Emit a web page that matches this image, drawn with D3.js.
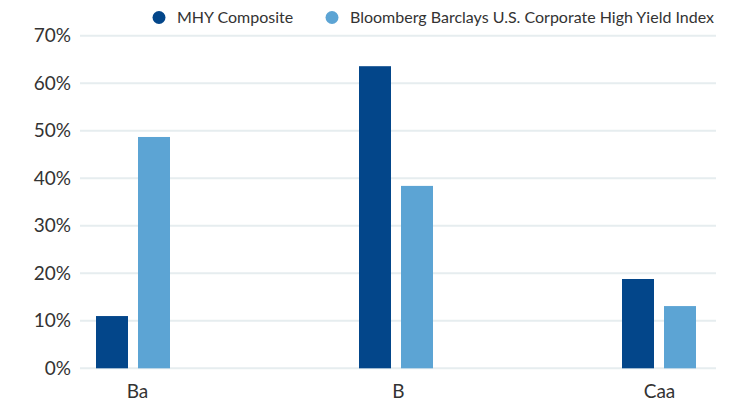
<!DOCTYPE html>
<html>
<head>
<meta charset="utf-8">
<script src="https://cdn.jsdelivr.net/npm/d3@7/dist/d3.min.js"></script>
<style>
  html, body { margin: 0; padding: 0; background: #fff; }
  svg { display: block; font-family: Lato, "Open Sans", sans-serif; }
</style>
</head>
<body>
<svg id="chart" width="730" height="410"></svg>
<script>
const categories = ["Ba", "B", "Caa"];
const seriesNames = ["MHY Composite", "Bloomberg Barclays U.S. Corporate High Yield Index"];
const mhyComposite = [0.110, 0.636, 0.188];
const bloombergIndex = [0.487, 0.384, 0.131];
const yTicks = [0, 0.1, 0.2, 0.3, 0.4, 0.5, 0.6, 0.7];
const colors = ["#03468a", "#5ca4d4"];

const seriesValues = [mhyComposite, bloombergIndex];
const rows = categories.map((c, i) => ({
  cat: c,
  vals: seriesNames.map((s, j) => ({ s, v: seriesValues[j][i] }))
}));

const svg = d3.select("#chart");

const y = d3.scaleLinear().domain([0, 0.7]).range([368.3, 35.8]);
const xGroup = d3.scalePoint().domain(categories).range([133, 659]);
const xLabel = d3.scalePoint().domain(categories).range([137, 659]);
const xInner = d3.scaleBand().domain(seriesNames).range([-37, 37]).paddingInner(10 / 42).paddingOuter(0);

// gridlines
svg.append("g")
  .selectAll("line")
  .data(yTicks)
  .join("line")
  .attr("x1", 80).attr("x2", 716)
  .attr("y1", d => y(d)).attr("y2", d => y(d))
  .attr("stroke", "#e6edef")
  .attr("stroke-width", 2);

// y axis labels
const yAxis = d3.axisLeft(y).tickValues(yTicks).tickFormat(d3.format(".0%")).tickSize(0).tickPadding(0);
const gy = svg.append("g").attr("transform", "translate(71,0)").call(yAxis);
gy.select(".domain").remove();
gy.selectAll("text")
  .attr("font-family", "Lato, sans-serif")
  .attr("font-size", 19)
  .attr("fill", "#333");

// bars
const groups = svg.append("g")
  .selectAll("g")
  .data(rows)
  .join("g")
  .attr("transform", d => `translate(${xGroup(d.cat)},0)`);

groups.selectAll("rect")
  .data(d => d.vals)
  .join("rect")
  .attr("x", d => xInner(d.s))
  .attr("width", xInner.bandwidth())
  .attr("y", d => y(d.v))
  .attr("height", d => y(0) - y(d.v))
  .attr("fill", (d, i) => colors[i]);

// x axis labels
const xAxis = d3.axisBottom(xLabel).tickSize(0).tickPadding(0);
const gx = svg.append("g").attr("transform", "translate(0,384)").call(xAxis);
gx.select(".domain").remove();
gx.selectAll("text")
  .attr("font-family", "Lato, sans-serif")
  .attr("font-size", 19)
  .attr("fill", "#333");

// legend
const legendX = [159, 332];
const legend = svg.append("g");
seriesNames.forEach((s, i) => {
  legend.append("circle")
    .attr("cx", legendX[i]).attr("cy", 17.5).attr("r", 6.5)
    .attr("fill", colors[i]);
  legend.append("text")
    .attr("x", legendX[i] + 18).attr("y", 17.5)
    .attr("dy", "0.35em")
    .attr("font-family", "Lato, sans-serif")
    .attr("font-size", 16)
    .attr("fill", "#333")
    .text(s);
});
</script>
</body>
</html>
